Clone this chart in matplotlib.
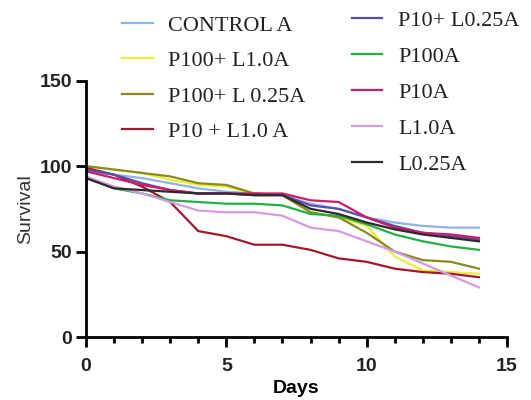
import matplotlib
matplotlib.use("Agg")
import matplotlib.pyplot as plt
from matplotlib.ticker import MultipleLocator

days = list(range(15))
control_a     = [97, 95, 93, 90, 87, 85, 84, 83, 78, 75, 70, 67, 65, 64, 64]
p100_l10      = [100, 98, 96, 92, 89, 88, 84, 83, 73, 70, 65, 47, 39, 38, 37]
p100_l025     = [100, 98, 96, 94, 90, 89, 84, 83, 73, 70, 61, 50, 45, 44, 40]
p10_l10       = [99, 95, 88, 79, 62, 59, 54, 54, 51, 46, 44, 40, 38, 37, 35]
p10_l025      = [98, 95, 90, 86, 84, 84, 83, 83, 77, 75, 70, 65, 61, 59, 57]
p100a         = [93, 87, 84, 80, 79, 78, 78, 77, 72, 71, 66, 60, 56, 53, 51]
p10a          = [97, 93, 89, 86, 84, 84, 84, 84, 80, 79, 70, 64, 61, 60, 58]
l10a          = [94, 88, 84, 79, 74, 73, 73, 71, 64, 62, 56, 50, 43, 36, 29]
l025a         = [93, 87, 86, 85, 84, 84, 83, 83, 75, 72, 67, 63, 60, 58, 56]

labels = ["CONTROL A", "P100+ L1.0A", "P100+ L 0.25A", "P10 + L1.0 A",
          "P10+ L0.25A", "P100A", "P10A", "L1.0A", "L0.25A"]
series = [control_a, p100_l10, p100_l025, p10_l10, p10_l025, p100a, p10a, l10a, l025a]
colors = ["#8fb3e6", "#ecec3a", "#8a8a22", "#a3182c", "#5a4fa6",
          "#22b043", "#d01a6a", "#d49be2", "#2e2a2e"]

fig = plt.figure(figsize=(5.31, 4.0), dpi=100)
ax = fig.add_axes([86/531, 1 - 337/400, (507-86)/531, (337-80.7)/400])

handles = []
for y, c, lab in zip(series, colors, labels):
    h, = ax.plot(days, y, color=c, lw=1.6, label=lab)
    handles.append(h)

ax.set_xlim(0, 15)
ax.set_ylim(0, 150)
ax.xaxis.set_major_locator(MultipleLocator(5))
ax.xaxis.set_minor_locator(MultipleLocator(1))
ax.yaxis.set_major_locator(MultipleLocator(50))
for s in ["top", "right"]:
    ax.spines[s].set_visible(False)
for s in ["left", "bottom"]:
    ax.spines[s].set_linewidth(2.0)
ax.tick_params(axis="both", which="major", direction="out", length=7, width=2.0,
               labelsize=14, colors="black", labelcolor="#222222")
ax.tick_params(axis="x", which="major", pad=8)
ax.tick_params(axis="y", which="major", pad=3)
ax.tick_params(axis="x", which="minor", direction="out", length=4, width=2.0)
for t in ax.get_xticklabels() + ax.get_yticklabels():
    t.set_fontweight("bold")
    t.set_family("Liberation Sans")

ax.set_ylabel("Survival", fontsize=14, color="#333333", family="Liberation Sans", labelpad=4)
ax.set_xlabel("Days", fontsize=14, fontweight="bold", family="Liberation Sans", labelpad=4)

leg_font = {"family": "Liberation Serif", "size": 16}
leg1 = fig.legend(handles[:4], labels[:4], loc="upper left",
                  bbox_to_anchor=(122/531, 1 - 15.5/400), frameon=False,
                  prop=leg_font, handlelength=1.4, handletextpad=0.68,
                  labelspacing=0.66, borderpad=0, borderaxespad=0)
leg2 = fig.legend(handles[4:], labels[4:], loc="upper left",
                  bbox_to_anchor=(352/531, 1 - 10/400), frameon=False,
                  prop=leg_font, handlelength=1.35, handletextpad=0.72,
                  labelspacing=0.70, borderpad=0, borderaxespad=0)
for leg in (leg1, leg2):
    for t in leg.get_texts():
        t.set_color("#222222")

fig.savefig("out.png", dpi=100)
